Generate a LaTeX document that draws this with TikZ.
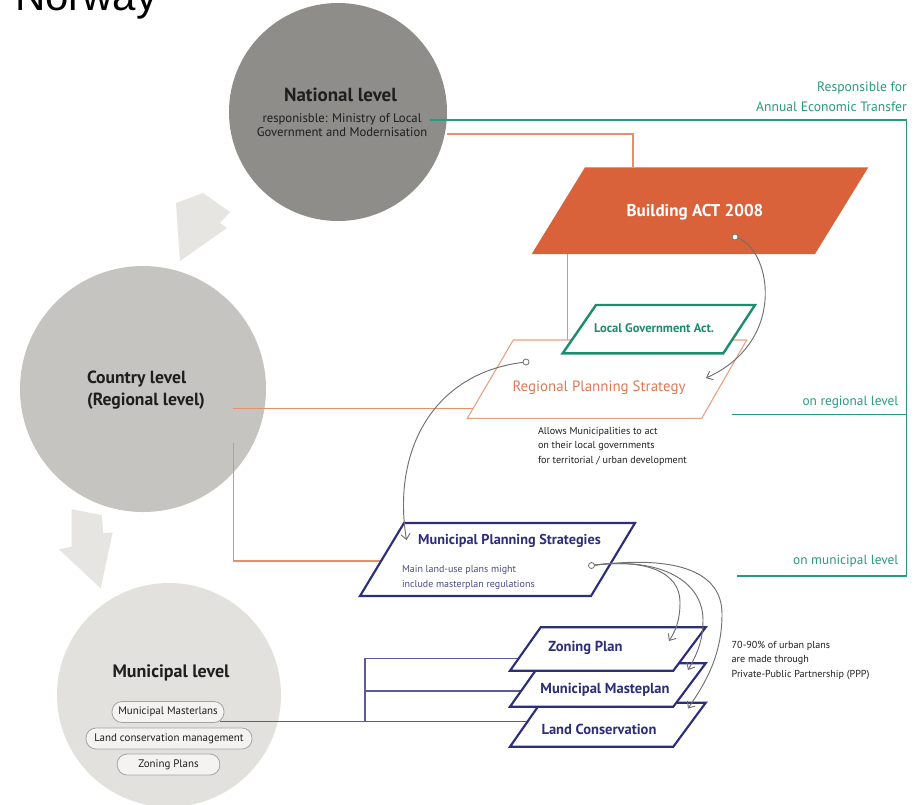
\documentclass[tikz,border=0pt]{standalone}
\usepackage{fontspec}
\setmainfont{PT Sans}
\newfontfamily\norfont{Liberation Sans}
\usetikzlibrary{arrows.meta}
\definecolor{natgray}{HTML}{8E8D89}
\definecolor{cougray}{HTML}{C6C4C0}
\definecolor{mungray}{HTML}{E2E1DD}
\definecolor{arrgray}{HTML}{E6E5E1}
\definecolor{bldorange}{HTML}{D9623A}
\definecolor{lineorange}{HTML}{E3906B}
\definecolor{regorange}{HTML}{E9A07E}
\definecolor{regtext}{HTML}{DD7A55}
\definecolor{teal}{HTML}{2A9A7E}
\definecolor{lgateal}{HTML}{1E8C6E}
\definecolor{navy}{HTML}{2D2E7A}
\definecolor{navytext}{HTML}{4A4B8A}
\definecolor{navyline}{HTML}{5B5C95}
\definecolor{curvegray}{HTML}{707070}
\definecolor{pillfill}{HTML}{F4F3F1}
\definecolor{pillborder}{HTML}{A5A4A0}
\definecolor{txtdark}{HTML}{1E1E1E}
\tikzset{
  lvlcircle/.style={circle, inner sep=0pt},
  bigarrow/.style={fill=arrgray},
  orangeline/.style={draw=lineorange, line width=0.8pt},
  tealline/.style={draw=teal, line width=0.9pt},
  navyline/.style={draw=navyline, line width=0.8pt},
  curve/.style={draw=curvegray, line width=0.7pt, -{Straight Barb[length=4pt,width=7pt]}},
  curvedot/.style={circle, draw=curvegray, fill=white, line width=0.6pt, minimum size=4.5pt, inner sep=0pt},
  plan/.style={draw=navy, fill=white, line width=1.6pt, line join=miter},
  plantext/.style={font=\bfseries\fontsize{10.9}{12}\selectfont, text=navy},
  pill/.style={draw=pillborder, fill=pillfill, rounded corners=7.5pt, minimum height=15.75pt, line width=0.6pt, font=\fontsize{8.2}{9}\selectfont, text=txtdark},
  tealtext/.style={text=teal, font=\fontsize{10.2}{15}\selectfont, align=right},
  smalltext/.style={text=txtdark, font=\fontsize{7.6}{10.8}\selectfont, align=left}
}
\begin{document}
\begin{tikzpicture}[x=0.75pt,y=-0.75pt, every node/.style={inner sep=0pt, outer sep=0pt}]
\useasboundingbox (0,0) rectangle (914,804);
\clip (0,0) rectangle (914,804);
\fill[white] (0,0) rectangle (914,804);

% title
\node[anchor=base west, font=\norfont\fontsize{31.5}{32}\selectfont] (title) at (15,10) {Norway};

% level circles
\node[lvlcircle, fill=natgray, minimum size=163.5pt] (nat) at (338,112) {};
\node[lvlcircle, fill=cougray, minimum size=184.5pt] (cou) at (143,389) {};
\node[lvlcircle, fill=mungray, minimum size=168pt] (mun) at (169,695) {};

% big arrows
\fill[bigarrow] (203,193) -- (230,212) -- (220,223) -- (227,228) -- (180,261) -- (176,203) -- cycle;
\fill[bigarrow] (71.7,509.3) -- (101.7,515) -- (103.3,533.3) -- (112.7,532.3) -- (100.7,588.3) -- (59,549.3) -- (71.7,546.7) -- cycle;

% circle texts
\node[font=\bfseries\fontsize{14.2}{16}\selectfont, text=txtdark] (natT) at (340.5,95) {National level};
\node[font=\fontsize{9.5}{9.9}\selectfont, text=txtdark, align=center] (natS) at (342,125) {responisble: Ministry of Local\\Government and Modernisation};
\node[anchor=west, font=\bfseries\fontsize{13.2}{16.3}\selectfont, text=txtdark, align=left] (couT) at (87,390) {Country level\\(Regional level)};
\node[font=\bfseries\fontsize{13.5}{15}\selectfont, text=txtdark] (munT) at (171,673) {Municipal level};
\node[pill, minimum width=84pt] (pMaster) at (168,712) {Municipal Masterlans};
\node[pill, minimum width=124.5pt] (pLand) at (169,738.5) {Land conservation management};
\node[pill, minimum width=77pt] (pZone) at (168.5,764.5) {Zoning Plans};

% coordinates for connectors
\coordinate (natO) at (447,134);
\coordinate (natTl) at (430,120);
\coordinate (bldTop) at (633,167.3);
\coordinate (bldBot) at (567.3,254);
\coordinate (regTop) at (567.3,340);
\coordinate (couR) at (233,408.7);
\coordinate (regL) at (473,408.7);
\coordinate (couB) at (233.3,442.7);
\coordinate (mpsL) at (381,561);
\coordinate (tealTR) at (906.7,120);
\coordinate (tealReg) at (731.7,414.3);
\coordinate (tealMun) at (736.7,576);
\coordinate (pMasterR) at (220,721.7);
\coordinate (zoneL) at (519,658.3);
\coordinate (mastL) at (521.3,691);
\coordinate (landL) at (528,721.7);

% orange lines
\draw[orangeline] (natO) -- (bldTop |- natO) -- (bldTop);
\draw[orangeline] (bldBot) -- (regTop);
\draw[orangeline] (couR) -- (regL);
\draw[orangeline] (couB) -- (couB |- mpsL) -- (mpsL);

% teal lines
\draw[tealline] (natTl) -- (tealTR) -- (tealTR |- tealMun) -- (tealMun);
\draw[tealline] (tealTR |- tealReg) -- (tealReg);

% navy lines
\draw[navyline] (pMasterR) -- (landL);
\draw[navyline] (365,721.7) -- (365,658.3) -- (zoneL);
\draw[navyline] (365,691) -- (mastL);

% Building ACT
\fill[bldorange] (585,167.3) -- (868.3,167.3) -- (815,254) -- (531.7,254) -- cycle;
\node[font=\bfseries\fontsize{12.8}{14}\selectfont, text=white] (bld) at (695,212) {Building ACT 2008};

% Regional planning strategy
\draw[draw=regorange, fill=white, line width=0.8pt] (513.3,340) -- (746.7,340) -- (701.7,418.3) -- (467.3,418.3) -- cycle;
\node[font=\fontsize{11.2}{13}\selectfont, text=regtext] (reg) at (599,388) {Regional Planning Strategy};

% Local Government Act
\draw[draw=lgateal, fill=white, line width=1.8pt] (596,305) -- (755,305) -- (723.3,353.3) -- (562.7,353.3) -- cycle;
\node[font=\bfseries\fontsize{9.4}{10}\selectfont, text=lgateal] (lga) at (654,328.5) {Local Government Act.};

\node[smalltext, anchor=north west] (allows) at (538,427) {Allows Municipalities to act\\on their local governments\\for territorial / urban development};

% Municipal planning strategies
\draw[plan] (404,523) -- (635,523) -- (591,596) -- (360,596) -- cycle;
\node[font=\bfseries\fontsize{10.7}{12}\selectfont, text=navy] (mps) at (509.5,541) {Municipal Planning Strategies};
\node[anchor=west, font=\fontsize{7.5}{11.25}\selectfont, text=navytext, align=left] (mpsB) at (402,578) {Main land-use plans might\\include masterplan regulations};

% plans stack
\draw[plan] (540.7,702.7) -- (705.7,702.7) -- (673.3,746.7) -- (510,746.7) -- cycle;
\node[plantext] (land) at (599,729) {Land Conservation};
\draw[plan] (540.7,663.3) -- (705.7,663.3) -- (673.3,706.7) -- (510,706.7) -- cycle;
\node[plantext] (mast) at (605,690) {Municipal Masteplan};
\draw[plan] (540.7,627.3) -- (705.7,627.3) -- (673.3,670.7) -- (510,670.7) -- cycle;
\node[plantext] (zone) at (585.5,647.5) {Zoning Plan};

\node[smalltext, anchor=north west] (ppp) at (731.7,641) {70-90\% of urban plans\\are made through\\Private-Public Partnership (PPP)};

% teal texts
\node[tealtext, anchor=north east] (resp) at (906.7,82) {Responsible for\\Annual Economic Transfer};
\node[tealtext, anchor=east, font=\fontsize{10}{11}\selectfont] (onreg) at (898.3,401.7) {on regional level};
\node[tealtext, anchor=east, font=\fontsize{10}{11}\selectfont] (onmun) at (898.3,561) {on municipal level};

% curved connectors
\coordinate (bldDotC) at (735,237);
\coordinate (regDotC) at (526,362);
\coordinate (mpsDotC) at (591.5,565.5);
\coordinate (regArr) at (706,378);
\coordinate (mpsArr) at (406.5,540);
\coordinate (zoneArr) at (669,641);
\coordinate (mastArr) at (688,670);
\coordinate (landArr) at (688,708.5);
\draw[curve] (bldDotC) .. controls (770,245) and (790,340) .. (regArr);
\draw[curve] (regDotC) .. controls (432,372) and (392,452) .. (mpsArr);
\draw[curve] (mpsDotC) .. controls (645,558) and (680,572) .. (680,602) .. controls (680,620) and (676,630) .. (zoneArr);
\draw[curve] (mpsDotC) .. controls (662,556) and (703,582) .. (703,620) .. controls (703,642) and (696,656) .. (mastArr);
\draw[curve] (mpsDotC) .. controls (682,554) and (722,574) .. (722,614) .. controls (722,655) and (706,682) .. (landArr);
\node[curvedot] (bldDot) at (bldDotC) {};
\node[curvedot] (regDot) at (regDotC) {};
\node[curvedot] (mpsDot) at (mpsDotC) {};
\end{tikzpicture}
\end{document}
